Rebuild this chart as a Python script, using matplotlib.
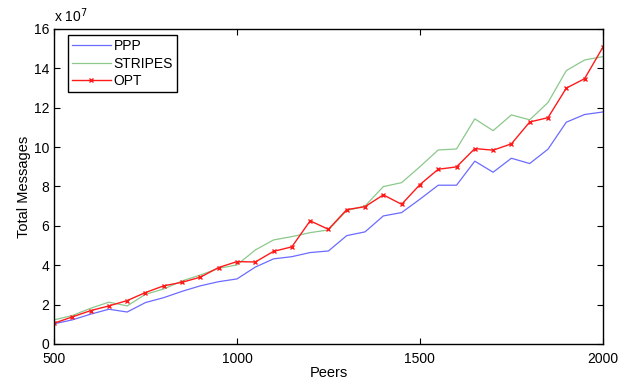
import matplotlib.pyplot as plt

plt.rcParams['font.family'] = ['Liberation Sans', 'DejaVu Sans']

# peers and total messages (in units of 1e7)
peers = list(range(500, 2001, 50))
ppp = [1.02, 1.22, 1.51, 1.76, 1.62, 2.10, 2.35, 2.67, 2.95, 3.16, 3.30,
       3.90, 4.32, 4.43, 4.64, 4.72, 5.50, 5.69, 6.50, 6.67, 7.35, 8.06,
       8.06, 9.28, 8.72, 9.43, 9.16, 9.89, 11.26, 11.65, 11.78]
stripes = [1.22, 1.44, 1.81, 2.12, 1.93, 2.52, 2.79, 3.20, 3.50, 3.84, 4.01,
           4.77, 5.28, 5.45, 5.65, 5.79, 6.77, 7.00, 7.99, 8.19, 9.00, 9.85,
           9.90, 11.43, 10.83, 11.63, 11.38, 12.26, 13.88, 14.42, 14.59]
opt = [1.05, 1.37, 1.69, 1.93, 2.20, 2.61, 2.95, 3.13, 3.39, 3.88, 4.18,
       4.16, 4.70, 4.93, 6.25, 5.82, 6.82, 6.97, 7.57, 7.09, 8.09, 8.87,
       8.99, 9.92, 9.84, 10.16, 11.27, 11.49, 12.99, 13.47, 15.07]

fig = plt.figure(figsize=(6.28, 3.8), dpi=100)
ax = fig.add_axes([0.086, 0.095, 0.874, 0.829])

ax.plot(peers, ppp, color='#6b6bff', lw=0.9, label='PPP')
ax.plot(peers, stripes, color='#8cc88c', lw=0.9, label='STRIPES')
ax.plot(peers, opt, color='#ff1a1a', lw=1.0, marker='x', ms=3.5, mew=1.0, label='OPT')

ax.set_xlim(500, 2000)
ax.set_ylim(0, 16)
ax.set_xticks([500, 1000, 1500, 2000])
ax.set_yticks(range(0, 17, 2))
ax.tick_params(direction='in', top=True, right=True, length=4, labelsize=10, width=0.8)
ax.tick_params(axis='x', pad=6)
for s in ax.spines.values():
    s.set_linewidth(1.0)

ax.set_xlabel('Peers', fontsize=10.5, labelpad=0)
ax.set_ylabel('Total Messages', fontsize=10.5, labelpad=2)
ax.text(0.0, 1.012, r'x 10$^{7}$', transform=ax.transAxes, fontsize=10, va='bottom', ha='left')

leg = ax.legend(loc='upper left', bbox_to_anchor=(0.025, 0.98), fontsize=10,
                fancybox=False, framealpha=1, edgecolor='black', borderaxespad=0,
                handlelength=2.8, handletextpad=0.2, labelspacing=0.25, borderpad=0.3)
leg.get_frame().set_linewidth(1.0)

fig.savefig('out.png', dpi=100)
